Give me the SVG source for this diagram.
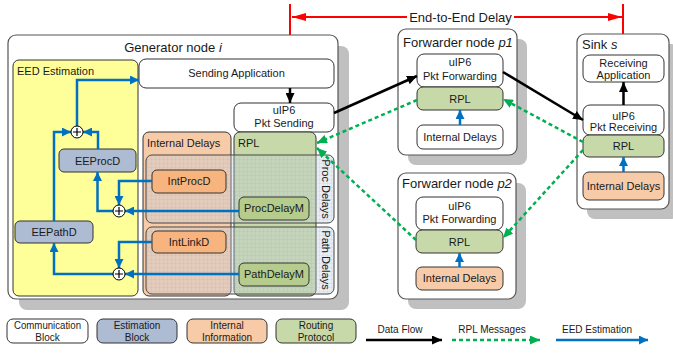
<svg xmlns="http://www.w3.org/2000/svg" width="673" height="353" viewBox="0 0 673 353">
<defs>
<style>
text{font-family:"Liberation Sans",Arial,sans-serif;fill:#1a1a1a}
.t11{font-size:11px}
.t13{font-size:13px}
.t10{font-size:10px}
.mid{text-anchor:middle}
.shadow{fill:#c0c0c0}
.node{fill:#fff;stroke:#555;stroke-width:1.2}
.blk{stroke:#333;stroke-width:1}
.white{fill:#fff}
.yel{fill:#ffff99}
.peach{fill:#f8cba8}
.orange{fill:#f7b47f}
.green{fill:#c7d9a8}
.dgreen{fill:#b5cc8c}
.blue{fill:#adbbd3}
.ov{fill:#c0cde3;fill-opacity:0.35;stroke:#444;stroke-width:1}
.grid{fill:url(#grid);stroke:none}
.fb{fill:none;stroke:#0070c0;stroke-width:2.5;marker-end:url(#mb)}
.fk{fill:none;stroke:#000;stroke-width:2.5;marker-end:url(#mk)}
.fg{fill:none;stroke:#00b050;stroke-width:2.5;stroke-dasharray:4 3;marker-end:url(#mg)}
.fr{fill:none;stroke:#ff0000;stroke-width:2}
.plus{fill:#fff;stroke:#000;stroke-width:1}
.pl{stroke:#000;stroke-width:1.2}
</style>
<pattern id="grid" width="4" height="4" patternUnits="userSpaceOnUse">
<path d="M4,0 V4 M0,4 H4" fill="none" stroke="#8f9bb3" stroke-width="0.4" stroke-opacity="0.6"/>
</pattern>
<marker id="mb" viewBox="0 0 9 9" refX="9" refY="4.5" markerWidth="9" markerHeight="9" markerUnits="userSpaceOnUse" orient="auto"><path d="M0,0 L9,4.5 L0,9 z" fill="#0070c0"/></marker>
<marker id="mk" viewBox="0 0 10 9" refX="10" refY="4.5" markerWidth="10" markerHeight="9" markerUnits="userSpaceOnUse" orient="auto"><path d="M0,0 L10,4.5 L0,9 z" fill="#000"/></marker>
<marker id="mg" viewBox="0 0 10 9" refX="10" refY="4.5" markerWidth="10" markerHeight="9" markerUnits="userSpaceOnUse" orient="auto"><path d="M0,0 L10,4.5 L0,9 z" fill="#00b050"/></marker>
<marker id="mr" viewBox="0 0 14 8" refX="14" refY="4" markerWidth="14" markerHeight="8" markerUnits="userSpaceOnUse" orient="auto"><path d="M0,0 L14,4 L0,8 z" fill="#ff0000"/></marker>
</defs>
<rect width="673" height="353" fill="#fff"/>

<g id="end-to-end-delay">
<path class="fr" d="M290,4 V55 M623,4 V46"/>
<path class="fr" d="M407,17 H292" marker-end="url(#mr)"/>
<path class="fr" d="M514,17 H622" marker-end="url(#mr)"/>
<text class="t13 mid" x="460.5" y="22">End-to-End Delay</text>
</g>

<g id="generator">
<rect class="shadow" x="19" y="46" width="330" height="264" rx="8"/>
<rect class="node" x="8" y="35" width="330" height="264" rx="8"/>
<text class="t13 mid" x="173" y="52">Generator node <tspan font-style="italic">i</tspan></text>
</g>

<g id="eed-estimation">
<rect class="yel blk" x="13" y="60" width="125" height="236" rx="6"/>
<text class="t11" x="17" y="75">EED Estimation</text>
</g>

<g id="sending-application">
<rect class="white blk" x="139" y="59" width="195" height="29" rx="7"/>
<text class="t11 mid" x="236.5" y="77">Sending Application</text>
</g>

<g id="uip6-pkt-sending">
<rect class="white blk" x="234" y="103" width="100" height="29" rx="7"/>
<text class="t11 mid" x="284" y="114">uIP6</text>
<text class="t11 mid" x="284" y="127">Pkt Sending</text>
</g>

<g id="gen-internal-delays">
<rect class="peach blk" x="143" y="132" width="88" height="164" rx="6"/>
<text class="t11" x="147" y="147">Internal Delays</text>
</g>

<g id="gen-rpl">
<rect class="green blk" x="234" y="132" width="82" height="164" rx="6"/>
<text class="t11" x="238" y="147">RPL</text>
</g>

<g id="proc-delays">
<rect class="ov" x="146" y="155" width="188" height="68" rx="6"/>
<rect class="grid" x="146" y="155" width="188" height="68" rx="6"/>
<text class="t11 mid" transform="translate(322,189) rotate(90)">Proc Delays</text>
</g>

<g id="path-delays">
<rect class="ov" x="146" y="227" width="188" height="67" rx="6"/>
<rect class="grid" x="146" y="227" width="188" height="67" rx="6"/>
<text class="t11 mid" transform="translate(322,260) rotate(90)">Path Delays</text>
</g>

<g id="intprocd">
<rect class="orange blk" x="152" y="170" width="74" height="23" rx="5"/>
<text class="t11 mid" x="189" y="185">IntProcD</text>
</g>
<g id="procdelaym">
<rect class="dgreen blk" x="239" y="197" width="70" height="23" rx="5"/>
<text class="t11 mid" x="274" y="212">ProcDelayM</text>
</g>
<g id="intlinkd">
<rect class="orange blk" x="152" y="231" width="74" height="22" rx="5"/>
<text class="t11 mid" x="189" y="246">IntLinkD</text>
</g>
<g id="pathdelaym">
<rect class="dgreen blk" x="239" y="263" width="70" height="23" rx="5"/>
<text class="t11 mid" x="274" y="278">PathDelayM</text>
</g>
<g id="eeprocd">
<rect class="blue blk" x="59" y="149" width="77" height="23" rx="5"/>
<text class="t11 mid" x="97.5" y="164.5">EEProcD</text>
</g>
<g id="eepathd">
<rect class="blue blk" x="15" y="221" width="78" height="22" rx="5"/>
<text class="t11 mid" x="54" y="236">EEPathD</text>
</g>

<g id="forwarder-p1">
<rect class="shadow" x="408" y="39" width="119" height="126" rx="8"/>
<rect class="node" x="398" y="29" width="119" height="126" rx="8"/>
<text class="t13" x="403" y="47">Forwarder node <tspan font-style="italic">p1</tspan></text>
<rect class="white blk" x="417" y="54" width="86" height="33" rx="7"/>
<text class="t11 mid" x="460" y="66">uIP6</text>
<text class="t11 mid" x="460" y="80">Pkt Forwarding</text>
<rect class="green blk" x="417" y="87" width="86" height="23" rx="6"/>
<text class="t11 mid" x="460" y="103">RPL</text>
<rect class="white blk" x="417" y="125" width="86" height="24" rx="6"/>
<text class="t11 mid" x="460" y="141">Internal Delays</text>
</g>

<g id="forwarder-p2">
<rect class="shadow" x="408" y="183" width="118" height="126" rx="8"/>
<rect class="node" x="398" y="173" width="118" height="126" rx="8"/>
<text class="t13" x="402" y="188">Forwarder node <tspan font-style="italic">p2</tspan></text>
<rect class="white blk" x="416" y="197" width="87" height="33" rx="7"/>
<text class="t11 mid" x="459.5" y="210">uIP6</text>
<text class="t11 mid" x="459.5" y="223">Pkt Forwarding</text>
<rect class="green blk" x="416" y="230" width="87" height="23" rx="6"/>
<text class="t11 mid" x="459.5" y="246">RPL</text>
<rect class="peach blk" x="416" y="267" width="87" height="23" rx="6"/>
<text class="t11 mid" x="459.5" y="282">Internal Delays</text>
</g>

<g id="sink">
<rect class="shadow" x="587" y="44" width="92" height="175" rx="8"/>
<rect class="node" x="577" y="34" width="92" height="175" rx="8"/>
<text class="t13" x="582" y="49">Sink <tspan font-style="italic">s</tspan></text>
<rect class="white blk" x="583" y="55" width="81" height="27" rx="7"/>
<text class="t11 mid" x="623.5" y="67">Receiving</text>
<text class="t11 mid" x="623.5" y="79">Application</text>
<rect class="white blk" x="583" y="105" width="81" height="30" rx="7"/>
<text class="t11 mid" x="623.5" y="120">uIP6</text>
<text class="t11 mid" x="623.5" y="131">Pkt Receiving</text>
<rect class="green blk" x="583" y="135" width="81" height="22" rx="6"/>
<text class="t11 mid" x="623.5" y="150">RPL</text>
<rect class="peach blk" x="583" y="172" width="81" height="28" rx="6"/>
<text class="t11 mid" x="623.5" y="190">Internal Delays</text>
</g>

<g id="connectors">
<path class="fb" d="M77,126 V80 H139"/>
<path class="fb" d="M54,221 V132 H71"/>
<path class="fb" d="M98,149 V132 H83"/>
<path class="fb" d="M119,211 H97.5 V172"/>
<path class="fb" d="M152,181 H119 V205"/>
<path class="fb" d="M239,211 H125"/>
<path class="fb" d="M119,274 H54 V243"/>
<path class="fb" d="M152,242 H119 V268"/>
<path class="fb" d="M239,274 H125"/>
<path class="fb" d="M460,125 V110"/>
<path class="fb" d="M459.5,267 V253"/>
<path class="fb" d="M623.5,172 V157"/>
<path class="fk" d="M290,88 V103"/>
<path class="fk" d="M334,113 L417,76"/>
<path class="fk" d="M503,72 L583,120"/>
<path class="fk" d="M623.5,105 V82"/>
<path class="fg" d="M417,100 L317,143"/>
<path class="fg" d="M416,240 L317,148"/>
<path class="fg" d="M583,142 L503,99"/>
<path class="fg" d="M583,150 L503,238"/>
<g id="sum-top"><circle class="plus" cx="77" cy="132" r="6"/><path class="pl" d="M73,132 H81 M77,128 V136"/></g>
<g id="sum-proc"><circle class="plus" cx="119" cy="211" r="6"/><path class="pl" d="M115,211 H123 M119,207 V215"/></g>
<g id="sum-path"><circle class="plus" cx="119" cy="274" r="6"/><path class="pl" d="M115,274 H123 M119,270 V278"/></g>
</g>

<g id="legend">
<rect class="white blk" x="7" y="319" width="81" height="24" rx="6"/>
<text class="t10 mid" x="47.5" y="328.5" textLength="67" lengthAdjust="spacingAndGlyphs">Communication</text>
<text class="t10 mid" x="47.5" y="340.5">Block</text>
<rect class="blue blk" x="97" y="319" width="80" height="24" rx="6"/>
<text class="t10 mid" x="137" y="328.5">Estimation</text>
<text class="t10 mid" x="137" y="340.5">Block</text>
<rect class="peach blk" x="187" y="319" width="80" height="24" rx="6"/>
<text class="t10 mid" x="227" y="328.5">Internal</text>
<text class="t10 mid" x="227" y="340.5">Information</text>
<rect class="green blk" x="276" y="319" width="80" height="24" rx="6"/>
<text class="t10 mid" x="316" y="328.5">Routing</text>
<text class="t10 mid" x="316" y="340.5">Protocol</text>
<text class="t10 mid" x="400" y="333">Data Flow</text>
<path class="fk" d="M366,340 H442"/>
<text class="t10 mid" x="492" y="333">RPL Messages</text>
<path class="fg" d="M452,340 H540"/>
<text class="t10 mid" x="597" y="333">EED Estimation</text>
<path class="fb" d="M556,340 H648"/>
</g>
</svg>
